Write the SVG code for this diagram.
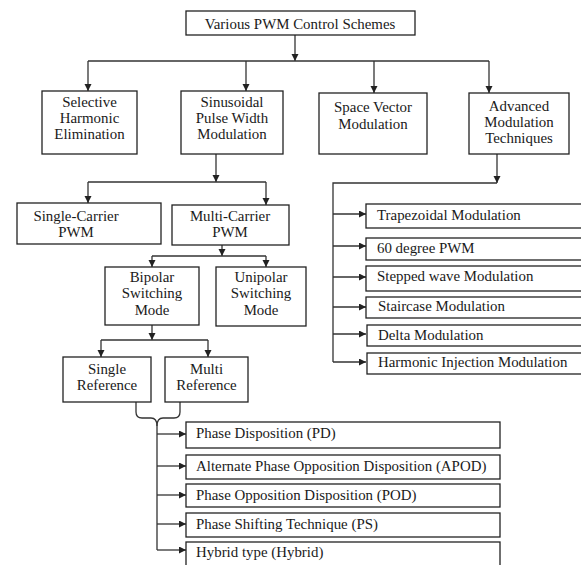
<svg xmlns="http://www.w3.org/2000/svg" width="581" height="565" viewBox="0 0 581 565">
<style>
.box{fill:#fff;stroke:#222;stroke-width:1.3}
.c{fill:none;stroke:#333;stroke-width:1.3}
.a{marker-end:url(#ah)}
text{font-family:"Liberation Serif","Times New Roman",serif;font-size:14.9px;fill:#1a1a1a}
.m{text-anchor:middle}
</style>
<defs>
<marker id="ah" markerUnits="userSpaceOnUse" markerWidth="8" markerHeight="8" refX="7" refY="3.5" orient="auto">
<path d="M0,0 L7,3.5 L0,7 z" fill="#222"/>
</marker>
</defs>
<g id="connectors">
<path class="c a" d="M295,35 V61"/>
<path class="c" d="M88,61 H489"/>
<path class="c a" d="M88,61 V91"/>
<path class="c a" d="M246,61 V91"/>
<path class="c a" d="M374,61 V93"/>
<path class="c a" d="M489,61 V93"/>
<path class="c a" d="M216,154 V182"/>
<path class="c" d="M88,182 H266"/>
<path class="c a" d="M88,182 V203"/>
<path class="c a" d="M266,182 V205"/>
<path class="c a" d="M222,245 V256"/>
<path class="c" d="M152,256 H266"/>
<path class="c a" d="M152,256 V267"/>
<path class="c a" d="M266,256 V267"/>
<path class="c a" d="M152,325 V340"/>
<path class="c" d="M101,340 H208"/>
<path class="c a" d="M101,340 V357"/>
<path class="c a" d="M208,340 V357"/>
<path class="c a" d="M497,154 V183"/>
<path class="c" d="M497,183 H333 V362"/>
<path class="c a" d="M333,214 H366"/>
<path class="c a" d="M333,246 H366"/>
<path class="c a" d="M333,277 H366"/>
<path class="c a" d="M333,307 H366"/>
<path class="c a" d="M333,334 H366"/>
<path class="c a" d="M333,362 H366"/>
<path class="c" d="M136,402 V412 Q136,418 142,418 H151 Q157,418 157,426 V550"/>
<path class="c" d="M180,402 V412 Q180,418 174,418 H163 Q157,418 157,426"/>
<path class="c a" d="M157,434 H186"/>
<path class="c a" d="M157,466 H186"/>
<path class="c a" d="M157,495 H186"/>
<path class="c a" d="M157,524 H186"/>
<path class="c a" d="M157,550 H186"/>
</g>
<g id="root"><rect class="box" x="186" y="11" width="229" height="24"/><text class="m" x="300" y="29">Various PWM Control Schemes</text></g>
<g id="she"><rect class="box" x="42" y="91" width="95" height="63"/><text class="m" x="89.5" y="107">Selective</text><text class="m" x="89.5" y="123">Harmonic</text><text class="m" x="89.5" y="139">Elimination</text></g>
<g id="spwm"><rect class="box" x="181" y="91" width="102" height="63"/><text class="m" x="232" y="107">Sinusoidal</text><text class="m" x="232" y="123">Pulse Width</text><text class="m" x="232" y="139">Modulation</text></g>
<g id="svm"><rect class="box" x="319" y="93" width="108" height="61"/><text class="m" x="373" y="112">Space Vector</text><text class="m" x="373" y="129">Modulation</text></g>
<g id="amt"><rect class="box" x="469" y="93" width="100" height="61"/><text class="m" x="519" y="111">Advanced</text><text class="m" x="519" y="127">Modulation</text><text class="m" x="519" y="143">Techniques</text></g>
<g id="single-carrier"><rect class="box" x="17" y="203" width="144" height="41"/><text class="m" x="76" y="221">Single-Carrier</text><text class="m" x="76" y="237">PWM</text></g>
<g id="multi-carrier"><rect class="box" x="172" y="205" width="117" height="40"/><text class="m" x="230" y="221">Multi-Carrier</text><text class="m" x="230" y="237">PWM</text></g>
<g id="bipolar"><rect class="box" x="105" y="267" width="94" height="58"/><text class="m" x="152" y="282">Bipolar</text><text class="m" x="152" y="298">Switching</text><text class="m" x="152" y="315">Mode</text></g>
<g id="unipolar"><rect class="box" x="216" y="267" width="90" height="59"/><text class="m" x="261" y="282">Unipolar</text><text class="m" x="261" y="298">Switching</text><text class="m" x="261" y="315">Mode</text></g>
<g id="single-ref"><rect class="box" x="63" y="357" width="88" height="45"/><text class="m" x="107" y="374">Single</text><text class="m" x="107" y="390">Reference</text></g>
<g id="multi-ref"><rect class="box" x="165" y="357" width="83" height="45"/><text class="m" x="206.5" y="374">Multi</text><text class="m" x="206.5" y="390">Reference</text></g>
<g id="trap"><rect class="box" x="366" y="204" width="220" height="24"/><text x="377" y="220">Trapezoidal Modulation</text></g>
<g id="deg60"><rect class="box" x="366" y="238" width="220" height="22"/><text x="377" y="253">60 degree PWM</text></g>
<g id="stepped"><rect class="box" x="366" y="266" width="220" height="25"/><text x="377" y="281">Stepped wave Modulation</text></g>
<g id="staircase"><rect class="box" x="366" y="297" width="220" height="21"/><text x="378" y="311">Staircase Modulation</text></g>
<g id="delta"><rect class="box" x="367" y="325" width="219" height="21"/><text x="378" y="340">Delta Modulation</text></g>
<g id="hi"><rect class="box" x="367" y="353" width="219" height="21"/><text x="378" y="367">Harmonic Injection  Modulation</text></g>
<g id="pd"><rect class="box" x="186" y="422" width="314" height="26"/><text x="196" y="438">Phase Disposition (PD)</text></g>
<g id="apod"><rect class="box" x="186" y="455" width="314" height="24"/><text x="196" y="471">Alternate Phase Opposition Disposition (APOD)</text></g>
<g id="pod"><rect class="box" x="186" y="484" width="314" height="23"/><text x="196" y="500">Phase Opposition Disposition (POD)</text></g>
<g id="ps"><rect class="box" x="186" y="513" width="314" height="24"/><text x="196" y="529">Phase Shifting Technique  (PS)</text></g>
<g id="hybrid"><rect class="box" x="186" y="542" width="314" height="30"/><text x="196" y="557">Hybrid type (Hybrid)</text></g>
</svg>
